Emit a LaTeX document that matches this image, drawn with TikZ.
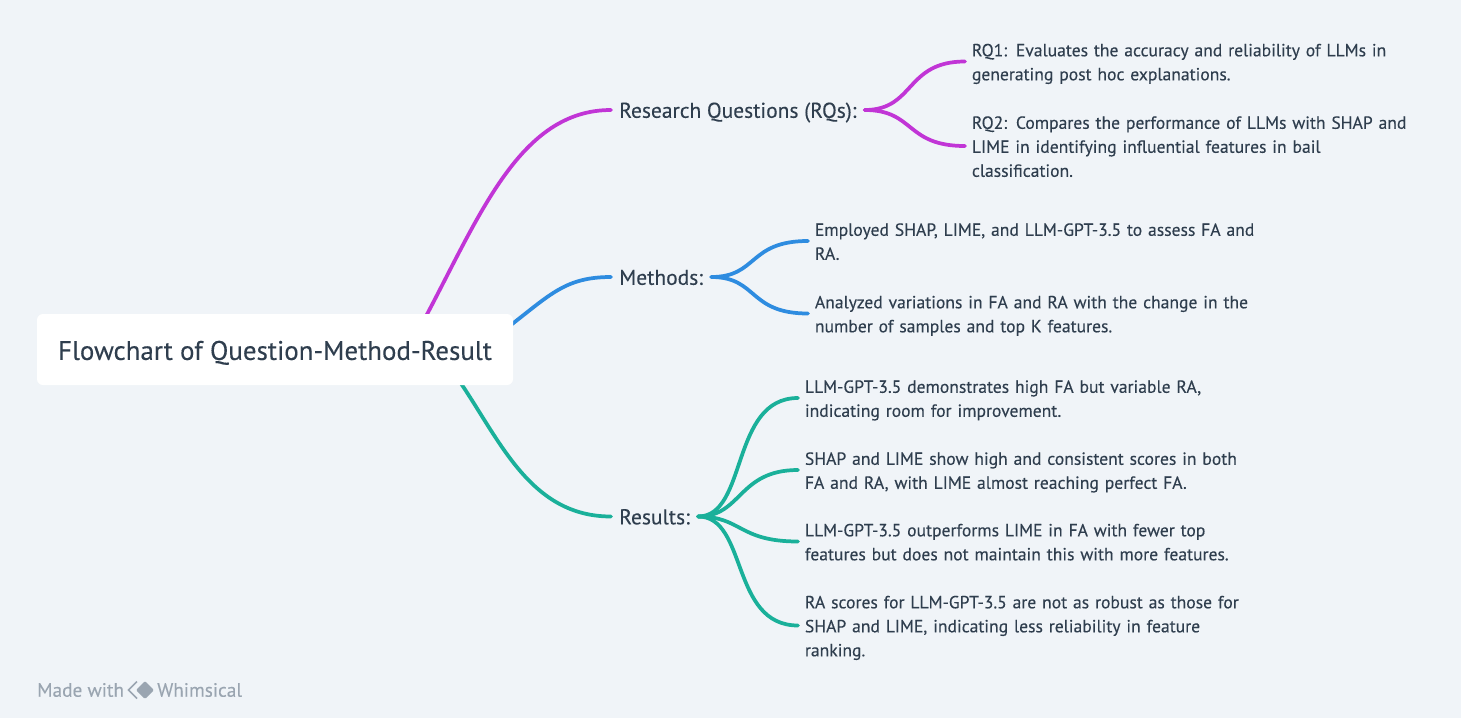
\documentclass[tikz,border=0pt]{standalone}
\usepackage{fontspec}
\setmainfont[FakeBold=0.2]{PT Sans}
\usetikzlibrary{backgrounds,positioning}
\definecolor{pagebg}{HTML}{F0F4F8}
\definecolor{inkdark}{HTML}{2F3E4E}
\definecolor{inkgray}{HTML}{9AA5B1}
\definecolor{branchrq}{HTML}{C135D6}
\definecolor{branchme}{HTML}{2E8CE0}
\definecolor{branchre}{HTML}{1AB09A}
\tikzset{
    rootbox/.style={draw=none, fill=white, rounded corners=4.5pt, minimum width=357pt, minimum height=53.25pt, inner sep=0pt, text=inkdark, font=\fontsize{20.2pt}{24pt}\selectfont, execute at begin node=\rule{0pt}{22.8pt}\strut},
    topic/.style={anchor=west, inner xsep=6pt, inner ysep=0pt, text=inkdark, font=\fontsize{16.1pt}{18pt}\selectfont, execute at begin node=\rule{0pt}{17.1pt}\strut},
    leaf/.style={anchor=west, align=left, text width=340pt, inner xsep=5pt, inner ysep=0pt, text=inkdark, font=\fontsize{13.2pt}{18pt}\selectfont, execute at begin node=\rule{0pt}{15.6pt}, execute at end node=\strut},
    link/.style={line width=2.8pt, line cap=round},
    credit/.style={anchor=west, inner sep=0pt, text=inkgray, font=\fontsize{14.5pt}{16pt}\selectfont},
}
\begin{document}
\begin{tikzpicture}[x=0.75pt, y=-0.75pt]
\useasboundingbox (0,0) rectangle (1461,718);
% root
\node[rootbox] (root) at (275,349.5) {Flowchart of Question-Method-Result};
\coordinate (rootrq) at (424,320);
\coordinate (rootme) at (507,328);
\coordinate (rootre) at (458,379);
% 2nd column
\node[topic] (rq) at (611,110) {Research Questions (RQs):};
\node[topic] (me) at (611,277) {Methods:};
\node[topic] (re) at (611,516.5) {Results:};
% 3rd column
\node[leaf] (rq1) at (965,61.5) {RQ1: Evaluates the accuracy and reliability of LLMs in\\generating post hoc explanations.};
\node[leaf] (rq2) at (965,146) {RQ2: Compares the performance of LLMs with SHAP and\\LIME in identifying influential features in bail\\classification.};
\node[leaf] (me1) at (808,241) {Employed SHAP, LIME, and LLM-GPT-3.5 to assess FA and\\RA.};
\node[leaf] (me2) at (808,313.5) {Analyzed variations in FA and RA with the change in the\\number of samples and top K features.};
\node[leaf] (re1) at (798,398) {LLM-GPT-3.5 demonstrates high FA but variable RA,\\indicating room for improvement.};
\node[leaf] (re2) at (798,470) {SHAP and LIME show high and consistent scores in both\\FA and RA, with LIME almost reaching perfect FA.};
\node[leaf] (re3) at (798,541.5) {LLM-GPT-3.5 outperforms LIME in FA with fewer top\\features but does not maintain this with more features.};
\node[leaf] (re4) at (798,625.5) {RA scores for LLM-GPT-3.5 are not as robust as those for\\SHAP and LIME, indicating less reliability in feature\\ranking.};
% connectors
\begin{pgfonlayer}{background}
\fill[pagebg] (0,0) rectangle (1461,718);
\draw[link, branchrq] (rootrq) .. controls (480,215) and (520,110) .. (rq.west);
\draw[link, branchme] (rootme) .. controls (550,295) and (565,277) .. (me.west);
\draw[link, branchre] (rootre) .. controls (500,440) and (530,516.5) .. (re.west);
\draw[link, branchrq] (rq.east) .. controls (915,110) and (905,61.5) .. (rq1.west);
\draw[link, branchrq] (rq.east) .. controls (915,110) and (905,146) .. (rq2.west);
\draw[link, branchme] (me.east) .. controls (758,277) and (748,241) .. (me1.west);
\draw[link, branchme] (me.east) .. controls (758,277) and (748,313.5) .. (me2.west);
\draw[link, branchre] (re.east) .. controls (748,516.5) and (730,398) .. (re1.west);
\draw[link, branchre] (re.east) .. controls (742,516.5) and (738,470) .. (re2.west);
\draw[link, branchre] (re.east) .. controls (742,516.5) and (738,541.5) .. (re3.west);
\draw[link, branchre] (re.east) .. controls (748,516.5) and (730,625.5) .. (re4.west);
\end{pgfonlayer}
% footer
\node[credit] (made) at (37,690) {Made with};
\node[credit] (whim) at (157,690) {Whimsical};
\fill[inkgray, rounded corners=1pt] (145,681) -- (154,690) -- (145,699) -- (136,690) -- cycle;
\draw[inkgray, line width=1.2pt] (137,681.5) -- (128.5,690) -- (137,698.5);
\end{tikzpicture}
\end{document}
